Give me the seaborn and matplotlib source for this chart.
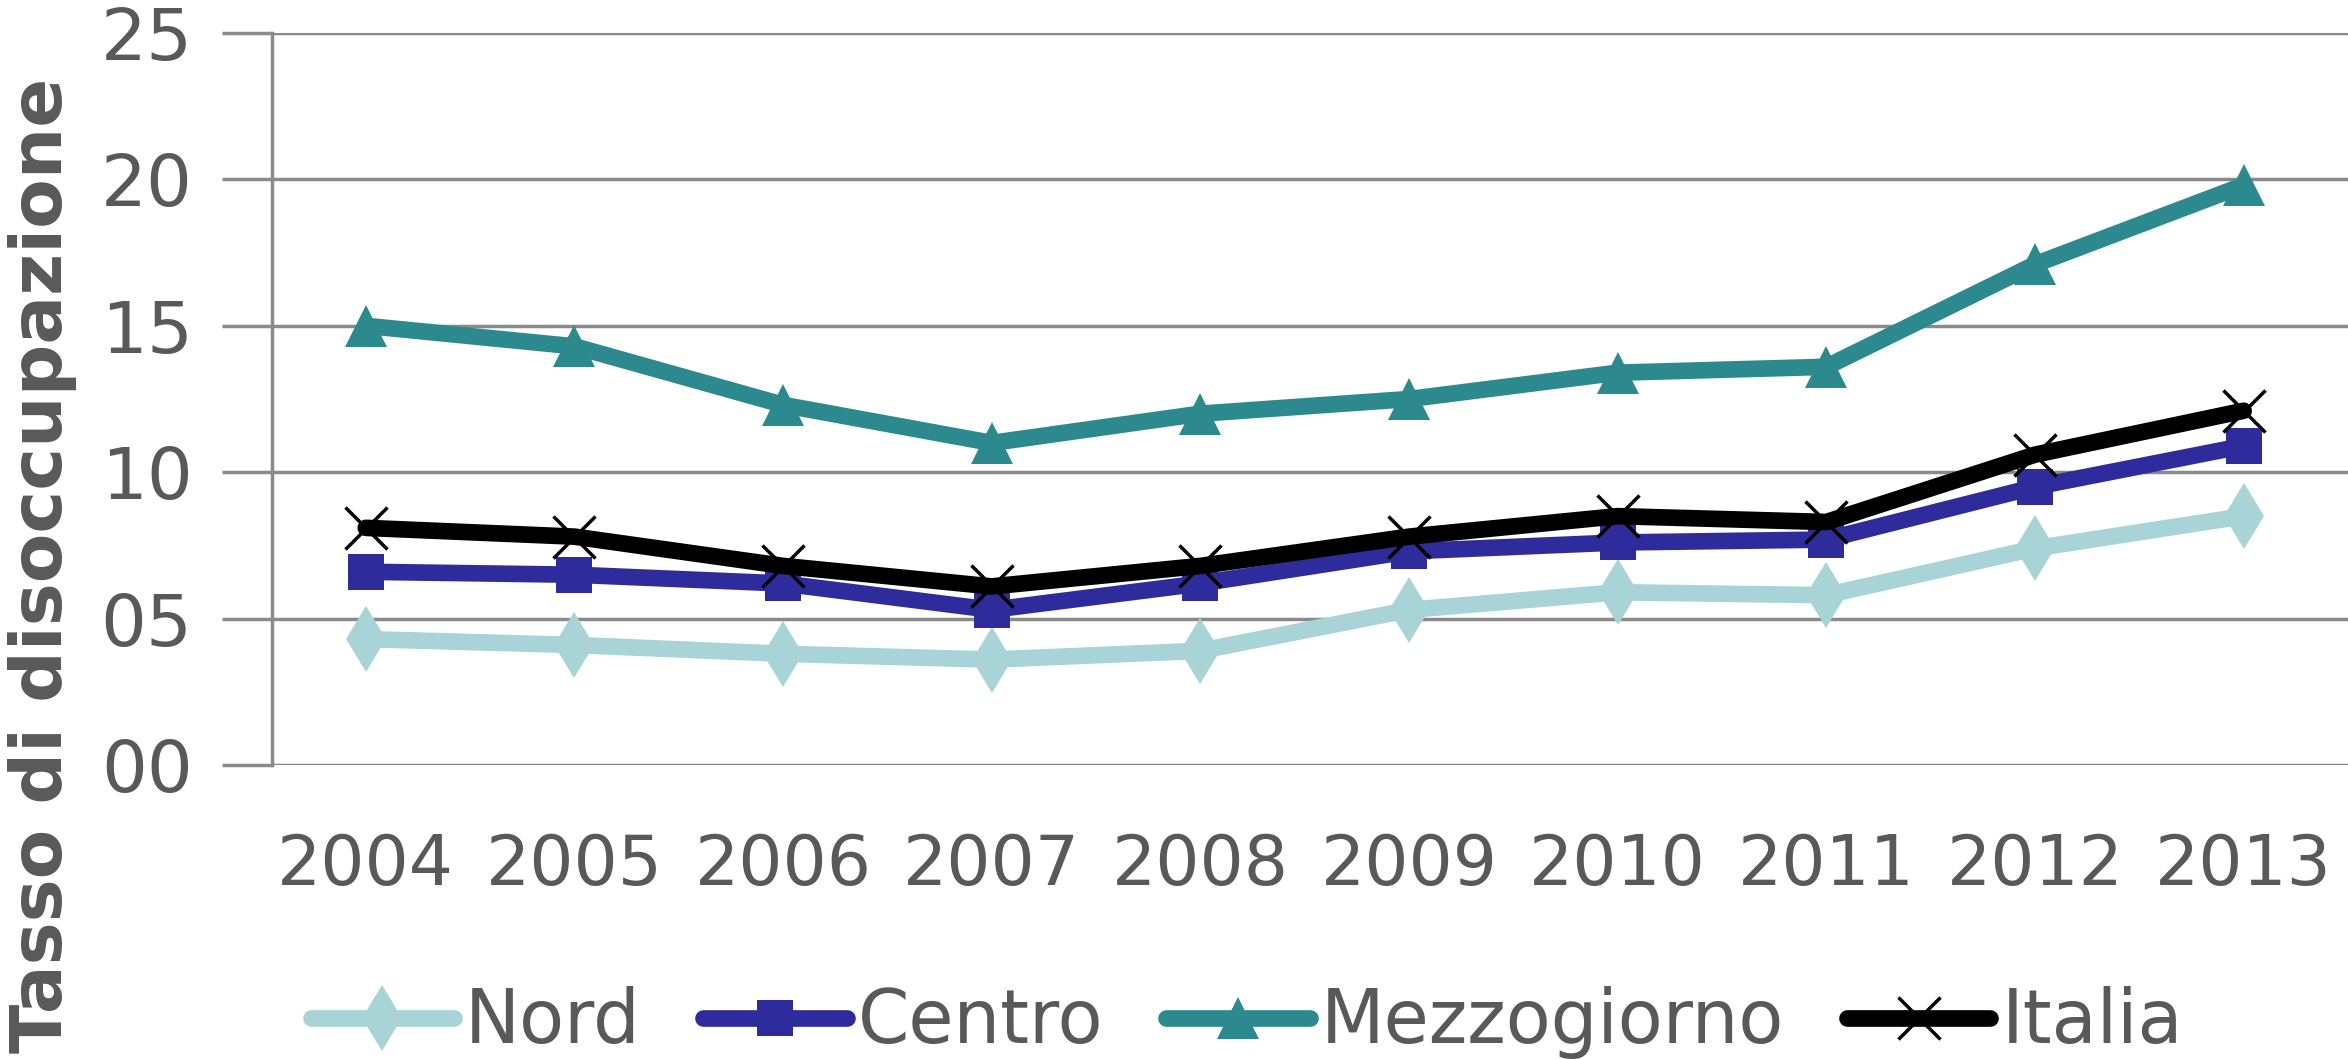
import matplotlib
matplotlib.use("Agg")
from matplotlib import pyplot as plt
import pandas as pd
import seaborn as sns

# dati: tasso di disoccupazione per ripartizione
anni = ["2004", "2005", "2006", "2007", "2008", "2009", "2010", "2011", "2012", "2013"]
nord = [4.3, 4.1, 3.8, 3.6, 3.9, 5.3, 5.9, 5.8, 7.4, 8.5]
centro = [6.6, 6.5, 6.2, 5.3, 6.2, 7.3, 7.6, 7.7, 9.5, 10.9]
mezzogiorno = [15.0, 14.3, 12.3, 11.0, 12.0, 12.5, 13.4, 13.6, 17.1, 19.8]
italia = [8.1, 7.8, 6.8, 6.1, 6.8, 7.8, 8.5, 8.3, 10.6, 12.1]

serie = ["Nord", "Centro", "Mezzogiorno", "Italia"]
colori = {"Nord": "#A8D4D7", "Centro": "#2E2C9C", "Mezzogiorno": "#2C8A8E", "Italia": "#000000"}
marker = {"Nord": "d", "Centro": "s", "Mezzogiorno": "^", "Italia": "x"}
msize = {"Nord": 34, "Centro": 26, "Mezzogiorno": 30, "Italia": 30}

df = pd.DataFrame({"anno": anni * 4,
                   "tasso": nord + centro + mezzogiorno + italia,
                   "zona": sum([[s] * len(anni) for s in serie], [])})

sns.set_style("white")
plt.rcParams['font.family'] = ['DejaVu Sans']

fig = plt.figure(figsize=(23.48, 10.59), dpi=100)
ax = fig.add_axes([0.1158, 0.2776, 0.8842, 0.6912])

for s in serie:
    d = df[df["zona"] == s]
    sns.lineplot(ax=ax, data=d, x="anno", y="tasso", color=colori[s], label=s,
                 marker=marker[s], markersize=msize[s], linewidth=12,
                 solid_capstyle="round",
                 markeredgewidth=2.5 if s == "Italia" else 0,
                 markeredgecolor=colori[s], legend=False)

ax.set_ylim(0, 25)
ax.set_xlim(-0.45, 9.5)
ax.set_yticks([0, 5, 10, 15, 20, 25])
ax.set_yticklabels(["00", "05", "10", "15", "20", "25"])
ax.yaxis.grid(True, color="#8a8a8a", linewidth=2.5)
ax.set_axisbelow(True)
for side in ["top", "right", "bottom"]:
    ax.spines[side].set_visible(False)
ax.spines["left"].set_color("#8a8a8a")
ax.spines["left"].set_linewidth(2.5)

ax.tick_params(axis="y", length=36, width=2.5, color="#8a8a8a", pad=21,
               labelsize=52, labelcolor="#595959", left=True)
ax.tick_params(axis="x", length=0, pad=48, labelsize=50, labelcolor="#595959")
ax.set_xlabel("")
ax.set_ylabel("")
fig.text(0.018, 0.466, "Tasso di disoccupazione", rotation=90, fontsize=52,
         fontweight="bold", color="#595959", ha="center", va="center")

handles, labels = ax.get_legend_handles_labels()
leg = fig.legend(handles, labels, loc="center", bbox_to_anchor=(0.531, 0.034),
                 ncol=4, frameon=False, fontsize=53, handlelength=1.95,
                 handletextpad=0.15, columnspacing=0.85, labelcolor="#595959")

fig.savefig("out.png", dpi=100)
